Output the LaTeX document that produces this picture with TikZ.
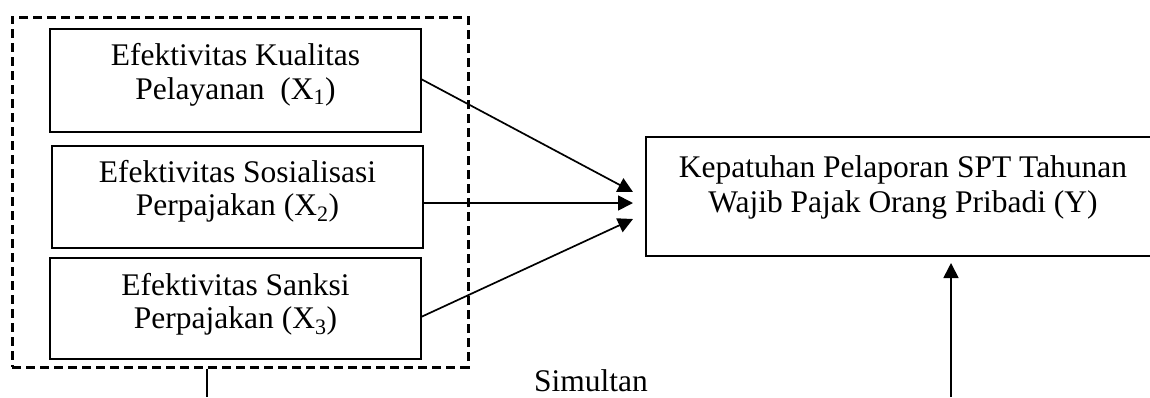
\documentclass[tikz,border=0pt]{standalone}
\usepackage{fontspec}
\setmainfont{Liberation Serif}
\usetikzlibrary{arrows.meta}
\begin{document}
\begin{tikzpicture}[x=1pt,y=-1pt,
  box/.style={draw, line width=1.8pt, inner sep=0pt},
  lbl/.style={anchor=base, inner sep=0pt, font=\fontsize{31.5}{34.5}\selectfont},
  arr/.style={line width=1.7pt, -{Triangle[length=15pt,width=15pt]}},
  plainline/.style={line width=1.7pt}]
\useasboundingbox (0,0) rectangle (1150,397);
\clip (0,0) rectangle (1150,397);
% group (dashed)
\node[draw, line width=3pt, dash pattern=on 9pt off 5pt, minimum width=456pt, minimum height=350pt, inner sep=0pt] (grp) at (240,192) {};
% boxes
\node[box, minimum width=371pt, minimum height=103pt] (x1) at (235.5,80.5) {};
\node[box, minimum width=371pt, minimum height=102pt] (x2) at (237.5,197) {};
\node[box, minimum width=371pt, minimum height=101pt] (x3) at (235.5,308.5) {};
\node[box, minimum width=514pt, minimum height=119pt] (yb) at (903,196.5) {};
% texts
\node[lbl] (t1a) at (235.5,65) {Efektivitas Kualitas};
\node[lbl] (t1b) at (235.5,99) {Pelayanan\ \ (X\textsubscript{1})};
\node[lbl] (t2a) at (237.5,182) {Efektivitas Sosialisasi};
\node[lbl] (t2b) at (237.5,215) {Perpajakan (X\textsubscript{2})};
\node[lbl] (t3a) at (235.5,295) {Efektivitas Sanksi};
\node[lbl] (t3b) at (235.5,328) {Perpajakan (X\textsubscript{3})};
\node[lbl] (tya) at (903,177) {Kepatuhan Pelaporan SPT Tahunan};
\node[lbl] (tyb) at (903,212) {Wajib Pajak Orang Pribadi (Y)};
\node[lbl] (sim) at (591,391) {Simultan};
% connector points
\coordinate (s1) at (421,79);
\coordinate (s2) at (423,203);
\coordinate (s3) at (421,317);
\coordinate (e1) at (633,192);
\coordinate (e2) at (633,203);
\coordinate (e3) at (633,219);
\coordinate (b1) at (951,397);
\coordinate (e4) at (951,263);
\coordinate (b0) at (207,397);
% connectors
\draw[arr] (s1) -- (e1);
\draw[arr] (s2) -- (e2);
\draw[arr] (s3) -- (e3);
\draw[arr] (b1) -- (e4);
\draw[plainline] (grp.south -| b0) -- (b0);
\end{tikzpicture}
\end{document}
